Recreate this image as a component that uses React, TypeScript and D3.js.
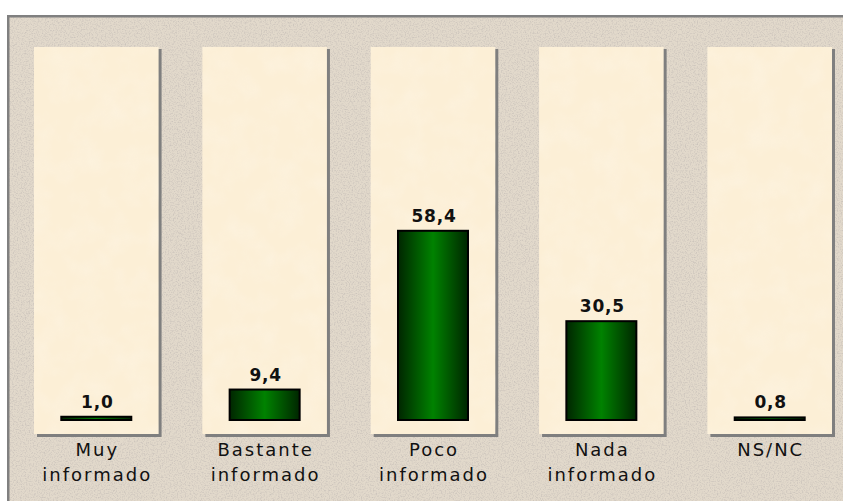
import * as d3 from "d3";

// chart values
const categories = ["Muy informado", "Bastante informado", "Poco informado", "Nada informado", "NS/NC"];
const categoryLines = [["Muy", "informado"], ["Bastante", "informado"], ["Poco", "informado"], ["Nada", "informado"], ["NS/NC"]];
const values = [1.0, 9.4, 58.4, 30.5, 0.8];

const W = 843;
const H = 501;

const esLocale = d3.formatLocale({ decimal: ",", thousands: ".", grouping: [3], currency: ["", " €"] });
const fmt = esLocale.format(".1f");

export default function App() {
  const x = d3.scaleBand<string>().domain(categories).range([34, 832]).paddingInner(0.26).paddingOuter(0);
  const y = d3.scaleLinear().domain([0, 100]).range([420, 96]);
  const panelTop = 47;
  const panelBottom = 434;
  const barW = 70;

  return (
    <svg width={W} height={H} style={{ position: "absolute", left: 0, top: 0 }}>
      <defs>
        <filter id="grain" x="0" y="0" width="100%" height="100%">
          <feTurbulence type="fractalNoise" baseFrequency="0.75" numOctaves={2} seed={3} result="noise" />
          <feColorMatrix
            in="noise"
            type="matrix"
            values="0 0 0 0 0.6  0 0 0 0 0.55  0 0 0 0 0.5  0 0 0 2.4 -1.05"
          />
        </filter>
        <filter id="soft" x="0" y="0" width="100%" height="100%">
          <feTurbulence type="fractalNoise" baseFrequency="0.04" numOctaves={3} seed={7} result="n" />
          <feColorMatrix in="n" type="matrix" values="0 0 0 0 1  0 0 0 0 1  0 0 0 0 1  0 0 0 0.8 -0.3" />
        </filter>
        <linearGradient id="barGrad" x1="0" x2="1" y1="0" y2="0">
          <stop offset="0%" stopColor="#002600" />
          <stop offset="50%" stopColor="#008200" />
          <stop offset="100%" stopColor="#002600" />
        </linearGradient>
        <clipPath id="frameClip">
          <rect x={7} y={15} width={W} height={H} />
        </clipPath>
      </defs>

      <rect x={0} y={0} width={W} height={H} fill="#ffffff" />
      <g clipPath="url(#frameClip)">
        <rect x={7} y={15} width={W} height={H} fill="#e2d9cb" />
        <rect x={7} y={15} width={W} height={H} filter="url(#grain)" />
      </g>
      <rect x={7} y={15} width={W - 7} height={2.5} fill="#808080" />
      <rect x={7} y={15} width={2.5} height={H - 15} fill="#808080" />

      {categories.map((c) => {
        const px = x(c)!;
        const bw = x.bandwidth();
        return (
          <g key={"p" + c}>
            <rect x={px + 3} y={panelTop + 2} width={bw} height={panelBottom - panelTop + 1} fill="#7f7f7f" />
            <rect x={px} y={panelTop} width={bw} height={panelBottom - panelTop} fill="#fcefd6" />
            <rect x={px} y={panelTop} width={bw} height={panelBottom - panelTop} filter="url(#soft)" opacity={0.4} />
          </g>
        );
      })}

      {categories.map((c, i) => {
        const cx = x(c)! + x.bandwidth() / 2;
        const top = y(values[i]);
        return (
          <g key={"b" + c}>
            <rect
              x={cx - barW / 2}
              y={top}
              width={barW}
              height={y(0) - top}
              fill="url(#barGrad)"
              stroke="#000"
              strokeWidth={2}
            />
            <text
              x={cx + 1}
              y={top - 9}
              textAnchor="middle"
              fontFamily="DejaVu Sans"
              fontWeight="bold"
              fontSize={17}
              letterSpacing={0.8}
              fill="#111"
            >
              {fmt(values[i])}
            </text>
          </g>
        );
      })}

      {categories.map((c, i) => {
        const cx = x(c)! + x.bandwidth() / 2;
        return (
          <text
            key={"l" + c}
            x={cx}
            textAnchor="middle"
            fontFamily="DejaVu Sans"
            fontSize={18}
            letterSpacing={2}
            fill="#111"
          >
            {categoryLines[i].map((line, j) => (
              <tspan key={j} x={cx + 1} y={456 + j * 25}>
                {line}
              </tspan>
            ))}
          </text>
        );
      })}
    </svg>
  );
}
